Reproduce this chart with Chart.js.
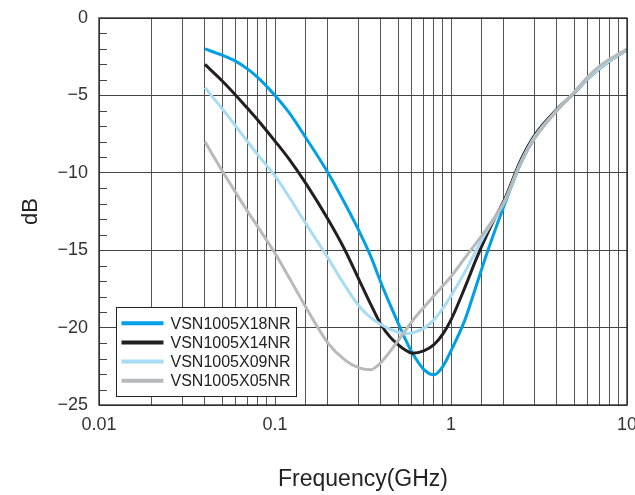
<!DOCTYPE html>
<html lang="en">
<head>
    <meta charset="UTF-8">
    <title>VSN1005 insertion loss</title>
    <script src="https://cdn.jsdelivr.net/npm/chart.js"></script>
    <style>
        html, body { margin: 0; padding: 0; background: #fff; }
        #wrap { width: 635px; height: 495px; }
    </style>
</head>
<body>
    <div id="wrap">
        <canvas id="lossChart" width="635" height="495"></canvas>
    </div>

    <script>
        // frequencies in GHz, shared by all four curves
        const freqs = [0.04, 0.05, 0.06, 0.07, 0.08, 0.1, 0.12, 0.15, 0.2, 0.25, 0.3, 0.35, 0.4, 0.45, 0.5, 0.55,
                       0.6, 0.7, 0.8, 0.9, 1.0, 1.2, 1.4, 1.6, 1.8, 2.0, 2.5, 3, 4, 5, 6, 7, 8, 10];

        // attenuation in dB
        const x18nr = [-2.0, -2.4, -2.8, -3.3, -3.85, -5.0, -6.1, -7.75, -10.0, -12.0, -13.75, -15.4, -17.1, -18.5, -19.7, -20.75,
                       -21.6, -22.7, -23.05, -22.5, -21.5, -19.5, -17.2, -15.2, -13.55, -12.15, -9.35, -7.7, -5.95, -4.85, -3.9, -3.25, -2.75, -2.05];
        const x14nr = [-3.0, -4.05, -5.0, -5.85, -6.6, -7.95, -9.1, -10.7, -13.0, -15.0, -16.9, -18.5, -19.8, -20.6, -21.1, -21.45,
                       -21.65, -21.5, -21.1, -20.4, -19.5, -17.4, -15.5, -14.0, -12.8, -11.8, -9.15, -7.55, -5.9, -4.85, -3.9, -3.25, -2.75, -2.05];
        const x09nr = [-4.5, -5.85, -7.0, -8.0, -8.85, -10.2, -11.55, -13.3, -15.5, -17.3, -18.6, -19.35, -19.8, -20.1, -20.3, -20.4,
                       -20.35, -20.05, -19.5, -18.75, -17.95, -16.4, -14.95, -13.75, -12.8, -11.95, -9.3, -7.65, -5.95, -4.85, -3.9, -3.25, -2.75, -2.05];
        const x05nr = [-8.0, -9.85, -11.3, -12.5, -13.5, -15.2, -16.75, -18.7, -21.0, -22.1, -22.6, -22.72, -22.25, -21.55, -20.85, -20.2,
                       -19.6, -18.7, -17.95, -17.3, -16.7, -15.5, -14.5, -13.6, -12.75, -11.9, -9.3, -7.75, -6.0, -4.8, -3.8, -3.1, -2.65, -2.0];

        const seriesNames = ['VSN1005X18NR', 'VSN1005X14NR', 'VSN1005X09NR', 'VSN1005X05NR'];
        const seriesColors = ['#00a0e6', '#231f20', '#a8dcf4', '#b8b9bb'];
        const seriesValues = [x18nr, x14nr, x09nr, x05nr];

        const xTickValues = [0.01, 0.1, 1, 10];
        const xTickLabels = ['0.01', '0.1', '1', '10'];

        function toPoints(values) {
            return freqs.map((f, i) => ({ x: f, y: values[i] }));
        }

        // small inward ticks on the dB axis, every 1 dB
        const minorTicks = {
            id: 'minorTicks',
            beforeDatasetsDraw(chart) {
                const { ctx, chartArea, scales: { y } } = chart;
                ctx.save();
                ctx.strokeStyle = '#444';
                ctx.lineWidth = 1;
                for (let v = -24; v < 0; v++) {
                    if (v % 5 === 0) continue;
                    const py = Math.round(y.getPixelForValue(v)) + 0.5;
                    ctx.beginPath();
                    ctx.moveTo(chartArea.left, py);
                    ctx.lineTo(chartArea.left + 8, py);
                    ctx.stroke();
                }
                ctx.restore();
            }
        };

        // frame round the plot and the boxed legend in the lower left
        const frameAndLegend = {
            id: 'frameAndLegend',
            afterDatasetsDraw(chart) {
                const { ctx, chartArea } = chart;
                ctx.save();
                ctx.strokeStyle = '#222';
                ctx.lineWidth = 1.3;
                ctx.strokeRect(chartArea.left, chartArea.top, chartArea.right - chartArea.left, chartArea.bottom - chartArea.top);

                const bx = chartArea.left + 17.5, by = chartArea.bottom - 97.5, bw = 180, bh = 89;
                ctx.fillStyle = '#fff';
                ctx.fillRect(bx, by, bw, bh);
                ctx.lineWidth = 1;
                ctx.strokeStyle = '#222';
                ctx.strokeRect(bx, by, bw, bh);

                ctx.font = '16px "Liberation Sans", Arial, sans-serif';
                ctx.textBaseline = 'middle';
                ctx.textAlign = 'left';
                chart.data.datasets.forEach((ds, i) => {
                    const cy = by + 15.7 + i * 19.2;
                    ctx.strokeStyle = ds.borderColor;
                    ctx.lineWidth = 4;
                    ctx.beginPath();
                    ctx.moveTo(bx + 5, cy);
                    ctx.lineTo(bx + 47, cy);
                    ctx.stroke();
                    ctx.fillStyle = '#222';
                    ctx.fillText(ds.label, bx + 54, cy + 1);
                });
                ctx.restore();
            }
        };

        Chart.defaults.font.family = '"Liberation Sans", Arial, sans-serif';

        const ctx = document.getElementById('lossChart').getContext('2d');
        const lossChart = new Chart(ctx, {
            type: 'line',
            data: {
                datasets: seriesNames.map((name, i) => ({
                    label: name,
                    data: toPoints(seriesValues[i]),
                    borderColor: seriesColors[i],
                    borderWidth: 3,
                    pointRadius: 0,
                    fill: false,
                    cubicInterpolationMode: 'monotone',
                    order: 4 - i
                }))
            },
            options: {
                responsive: false,
                animation: false,
                devicePixelRatio: 1,
                layout: { padding: { top: 18, right: 8, left: 0, bottom: 0 } },
                plugins: {
                    legend: { display: false },
                    tooltip: { enabled: false }
                },
                scales: {
                    x: {
                        type: 'logarithmic',
                        min: 0.01,
                        max: 10,
                        afterFit(scale) {
                            scale.height = 90;
                            scale.paddingLeft = 0;
                            scale.paddingRight = 0;
                        },
                        grid: { color: '#555', lineWidth: 1, drawTicks: false },
                        border: { display: false },
                        ticks: {
                            autoSkip: false,
                            maxRotation: 0,
                            padding: 9,
                            color: '#333',
                            font: { size: 18 },
                            callback(value) {
                                const i = xTickValues.findIndex(t => Math.abs(t - value) < t * 1e-6);
                                return i >= 0 ? xTickLabels[i] : '';
                            }
                        },
                        title: {
                            display: true,
                            text: 'Frequency(GHz)',
                            color: '#222',
                            font: { size: 23 },
                            padding: { top: 0, bottom: 2 }
                        }
                    },
                    y: {
                        min: -25,
                        max: 0,
                        afterFit(scale) {
                            scale.width = 99;
                            scale.paddingTop = 0;
                            scale.paddingBottom = 0;
                        },
                        grid: { color: '#444', lineWidth: 1, drawTicks: false },
                        border: { display: false },
                        ticks: {
                            stepSize: 5,
                            padding: 11,
                            color: '#333',
                            font: { size: 18 },
                            callback(value) {
                                return String(value).replace('-', '\u2212');
                            }
                        },
                        title: {
                            display: true,
                            text: 'dB',
                            color: '#222',
                            font: { size: 22 },
                            padding: { top: 18, bottom: 0 }
                        }
                    }
                }
            },
            plugins: [minorTicks, frameAndLegend]
        });
    </script>
</body>
</html>
